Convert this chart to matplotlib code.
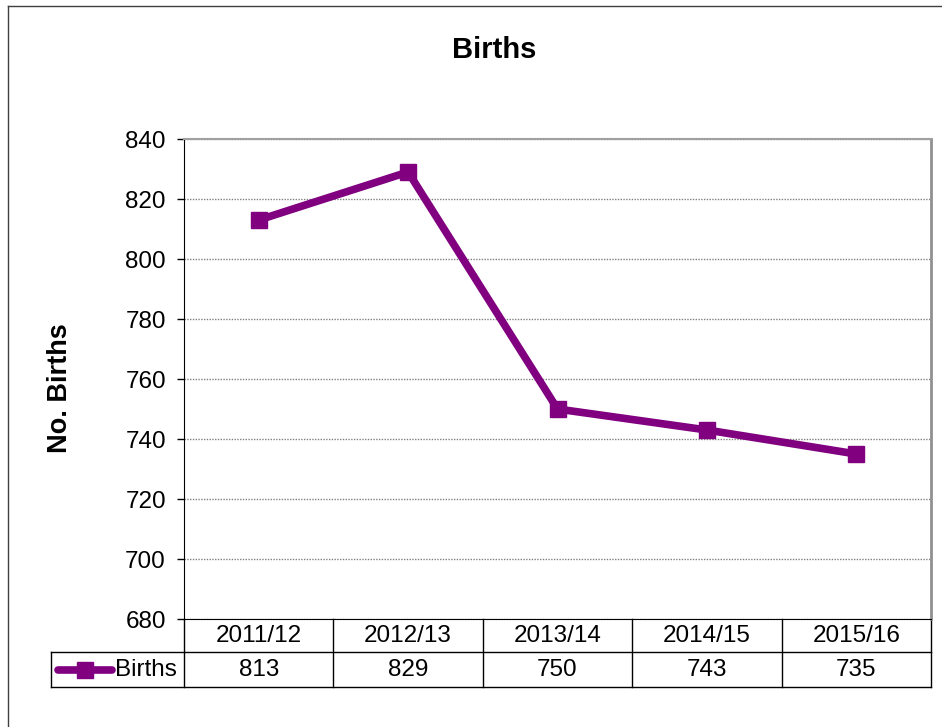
import matplotlib
matplotlib.use("Agg")
import matplotlib.pyplot as plt
from matplotlib.transforms import blended_transform_factory
from matplotlib.lines import Line2D

categories = ['2011/12', '2012/13', '2013/14', '2014/15', '2015/16']
births = [813, 829, 750, 743, 735]
series_name = 'Births'
yticks = [680, 700, 720, 740, 760, 780, 800, 820, 840]

plt.rcParams['font.family'] = ['Liberation Sans', 'DejaVu Sans']

W, H = 942, 727
fig = plt.figure(figsize=(W / 100, H / 100), dpi=100)
L, R, T, B = 184, 931, 139, 619
ax = fig.add_axes([L / W, 1 - B / H, (R - L) / W, (B - T) / H])

FS = 17.5
purple = '#800080'
x = list(range(len(categories)))
ax.plot(x, births, color=purple, lw=5.5, marker='s', ms=11, solid_joinstyle='miter', zorder=3)
ax.set_xlim(-0.5, len(categories) - 0.5)
ax.set_ylim(yticks[0], yticks[-1])
ax.set_yticks(yticks)
ax.set_xticks([])
ax.tick_params(axis='y', labelsize=FS, length=5, width=1, pad=8, direction='out')
ax.grid(axis='y', color='#808080', ls=(0, (1, 1)), lw=1)
ax.set_axisbelow(True)
ax.spines['left'].set_color('black')
ax.spines['bottom'].set_color('black')
ax.spines['top'].set_color('#a0a0a0')
ax.spines['top'].set_linewidth(1.5)
ax.spines['right'].set_color('#909090')
ax.spines['right'].set_linewidth(2)

# Title and y label
fig.text(494 / W, 1 - 50 / H, 'Births', ha='center', va='center', fontsize=21, fontweight='bold')
fig.text(60 / W, 1 - 388 / H, 'No. Births', ha='center', va='center', rotation=90,
         fontsize=19.5, fontweight='bold')

# Data table below the axes
ph = B - T
pw = R - L
def ay(py):
    return (B - py) / ph
def ax_(px):
    return (px - L) / pw

r1, r2 = 652, 687
lc = 51
ta = ax.transAxes
kw = dict(transform=ta, clip_on=False, color='black', lw=1)
ax.add_line(Line2D([0, 1], [ay(r1), ay(r1)], **kw))
ax.add_line(Line2D([ax_(lc), 1], [ay(r2), ay(r2)], **kw))
ax.add_line(Line2D([ax_(lc), 0], [ay(r1), ay(r1)], **kw))
ax.add_line(Line2D([ax_(lc), ax_(lc)], [ay(r1), ay(r2)], **kw))
bt = blended_transform_factory(ax.transData, ax.transAxes)
for i in range(len(categories) + 1):
    ax.add_line(Line2D([i - 0.5, i - 0.5], [0, ay(r2)], transform=bt, clip_on=False,
                       color='black', lw=1))
for i, (c, v) in enumerate(zip(categories, births)):
    ax.text(i, ay((B + r1) / 2), c, transform=bt, ha='center', va='center', fontsize=FS)
    ax.text(i, ay((r1 + r2) / 2), str(v), transform=bt, ha='center', va='center', fontsize=FS)

# Legend key in table
yc = ay((r1 + r2) / 2)
ax.add_line(Line2D([ax_(58), ax_(112)], [yc, yc], transform=ta, clip_on=False,
                   color=purple, lw=5.5, solid_capstyle='round'))
ax.add_line(Line2D([ax_(85)], [yc], transform=ta, clip_on=False, color=purple,
                   marker='s', ms=11, lw=0))
ax.text(ax_(115), yc, series_name, transform=ta, ha='left', va='center', fontsize=FS)

# Outer chart border
fig.add_artist(Line2D([8 / W, 8 / W], [0, 1 - 6 / H], transform=fig.transFigure,
                      color='#404040', lw=1))
fig.add_artist(Line2D([8 / W, 1], [1 - 6 / H, 1 - 6 / H], transform=fig.transFigure,
                      color='#404040', lw=1))

fig.savefig('out.png', dpi=100)
